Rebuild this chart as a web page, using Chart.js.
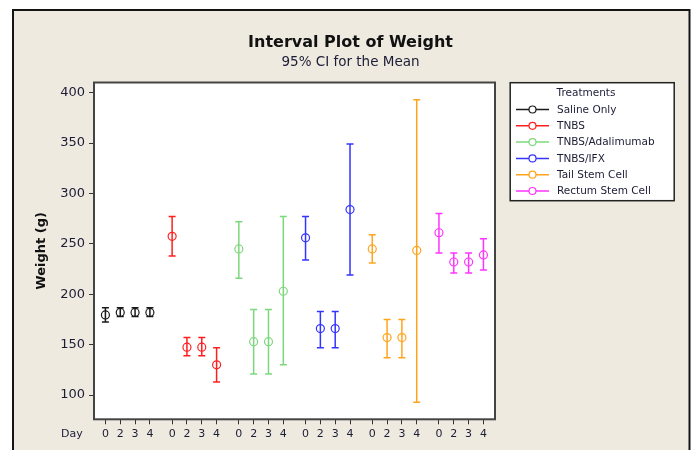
<!DOCTYPE html>
<html><head><meta charset="utf-8">
<script src="https://cdn.jsdelivr.net/npm/chart.js@4/dist/chart.umd.min.js"></script>
<style>html,body{margin:0;padding:0;background:#fff;}canvas{display:block;}</style>
</head><body>
<canvas id="c" width="697" height="450"></canvas>
<script>
// ---- data ----
const chartTitle = 'Interval Plot of Weight';
const chartSubtitle = '95% CI for the Mean';
const treatments = ['Saline Only','TNBS','TNBS/Adalimumab','TNBS/IFX','Tail Stem Cell','Rectum Stem Cell'];
const dayLabels = ['0','2','3','4'];
const yTickValues = [100,150,200,250,300,350,400];
const meanWeight = [
  [179.5,182,182,182],
  [257.5,147.5,147.5,130],
  [245,153,153,203],
  [256,166,166,284],
  [245,157,157,243.5],
  [261,232,232,239]
];
const lowerCI = [
  [172.5,178,178,178],
  [238,139,139,113],
  [216,121,121,130],
  [234,147,147,219],
  [231,137,137,93],
  [241,221,221,224]
];
const upperCI = [
  [186.5,186.5,186.5,186.5],
  [277,157,157,147],
  [272,185,185,277],
  [277,183,183,349],
  [259,175,175,393],
  [280,241,241,255]
];
const colors = ['#1a1a1a','#ff1f1f','#7dd87d','#3434ff','#ffa41c','#ff33ff'];

// ---- build datasets ----
const GROUP_STEP = 4.5;
const xPos = (g, i) => g * GROUP_STEP + i;
const tickPositions = [];
treatments.forEach((t, g) => dayLabels.forEach((d, i) => tickPositions.push(xPos(g, i))));

const meanSets = treatments.map((t, g) => ({
  label: t,
  data: meanWeight[g].map((v, i) => ({x: xPos(g, i), y: v})),
  showLine: false,
  pointStyle: 'circle',
  pointRadius: 4,
  pointBorderWidth: 1.2,
  borderColor: colors[g],
  pointBorderColor: colors[g],
  backgroundColor: 'rgba(0,0,0,0)',
  pointBackgroundColor: 'rgba(0,0,0,0)'
}));
const intervalSets = [];
treatments.forEach((t, g) => {
  dayLabels.forEach((d, i) => {
    intervalSets.push({
      label: t + ' interval',
      isInterval: true,
      data: [{x: xPos(g, i), y: lowerCI[g][i]}, {x: xPos(g, i), y: upperCI[g][i]}],
      showLine: true,
      borderColor: colors[g],
      borderWidth: 1.5,
      pointStyle: 'line',
      pointRadius: 3.5,
      pointBorderWidth: 1.5,
      pointBorderColor: colors[g],
      backgroundColor: colors[g]
    });
  });
});

const TEXT = '#1c1c36';

const decorPlugin = {
  id: 'decor',
  beforeDraw(chart) {
    const ctx = chart.ctx, W = chart.width, H = chart.height;
    ctx.save();
    ctx.fillStyle = '#ffffff';
    ctx.fillRect(0, 0, W, H);
    ctx.fillStyle = '#eeeae0';
    ctx.fillRect(13, 10, 676.5, H);
    ctx.strokeStyle = '#141414';
    ctx.lineWidth = 2;
    ctx.beginPath();
    ctx.moveTo(13, H + 3); ctx.lineTo(13, 10); ctx.lineTo(689.5, 10); ctx.lineTo(689.5, H + 3);
    ctx.stroke();
    const a = chart.chartArea;
    ctx.fillStyle = '#ffffff';
    ctx.fillRect(a.left, a.top, a.right - a.left, a.bottom - a.top);
    // title + subtitle
    ctx.textAlign = 'center';
    ctx.textBaseline = 'alphabetic';
    ctx.fillStyle = '#111111';
    ctx.font = 'bold 16px "DejaVu Sans"';
    ctx.fillText(chartTitle, 350.5, 46.7);
    ctx.fillStyle = TEXT;
    ctx.font = '13.5px "DejaVu Sans"';
    ctx.fillText(chartSubtitle, 350.5, 65.7);
    ctx.restore();
  },
  beforeDatasetsDraw(chart) {
    const ctx = chart.ctx, a = chart.chartArea;
    ctx.save();
    ctx.strokeStyle = '#444444';
    ctx.lineWidth = 2;
    ctx.strokeRect(a.left, a.top, a.right - a.left, a.bottom - a.top);
    ctx.restore();
  },
  afterDraw(chart) {
    const ctx = chart.ctx;
    ctx.save();
    // "Day" label beside the x tick labels
    const xs = chart.scales.x;
    ctx.fillStyle = TEXT;
    ctx.font = '11px "DejaVu Sans"';
    ctx.textAlign = 'left';
    ctx.textBaseline = 'middle';
    ctx.fillText('Day', 61, xs.top + 5 + 3 + 6.6);
    // legend box
    const L = 510.2, T = 82.7, R = 674.2, B = 200.7;
    ctx.fillStyle = '#ffffff';
    ctx.fillRect(L, T, R - L, B - T);
    ctx.strokeStyle = '#222222';
    ctx.lineWidth = 1.5;
    ctx.strokeRect(L, T, R - L, B - T);
    ctx.fillStyle = TEXT;
    ctx.font = '10.5px "DejaVu Sans"';
    ctx.textAlign = 'center';
    ctx.fillText('Treatments', 586, 93.5);
    const sets = chart.data.datasets.filter(d => !d.isInterval);
    sets.forEach((ds, k) => {
      const y = 109.5 + k * 16.3;
      ctx.strokeStyle = ds.borderColor;
      ctx.lineWidth = 1.5;
      ctx.beginPath(); ctx.moveTo(516, y); ctx.lineTo(549, y); ctx.stroke();
      ctx.fillStyle = '#ffffff';
      ctx.lineWidth = 1.2;
      ctx.beginPath(); ctx.arc(532.5, y, 3.5, 0, Math.PI * 2); ctx.fill(); ctx.stroke();
      ctx.fillStyle = TEXT;
      ctx.textAlign = 'left';
      ctx.fillText(ds.label, 557, y + 0.5);
    });
    ctx.restore();
  }
};

new Chart(document.getElementById('c'), {
  type: 'scatter',
  data: { datasets: meanSets.concat(intervalSets) },
  options: {
    responsive: false,
    devicePixelRatio: 1,
    animation: false,
    events: [],
    layout: { padding: { left: 0, right: 202, top: 82.5, bottom: 0 } },
    plugins: {
      legend: { display: false },
      tooltip: { enabled: false },
      title: { display: false },
      subtitle: { display: false }
    },
    scales: {
      x: {
        type: 'linear',
        min: -0.77,
        max: 26.28,
        afterBuildTicks: (s) => { s.ticks = tickPositions.map(v => ({value: v})); },
        afterFit: (s) => { s.height = 30.7; },
        border: { display: false },
        grid: { display: true, drawOnChartArea: false, drawTicks: true, tickLength: 5, color: '#333333', lineWidth: 1 },
        ticks: {
          autoSkip: false, maxRotation: 0, padding: 3, color: TEXT,
          font: { family: '"DejaVu Sans"', size: 11 },
          callback: (v, i) => dayLabels[i % dayLabels.length]
        }
      },
      y: {
        type: 'linear',
        min: 76,
        max: 410,
        afterBuildTicks: (s) => { s.ticks = yTickValues.map(v => ({value: v})); },
        afterFit: (s) => { s.width = 94; },
        border: { display: false },
        grid: { display: true, drawOnChartArea: false, drawTicks: true, tickLength: 5, color: '#333333', lineWidth: 1 },
        ticks: { padding: 4, color: TEXT, font: { family: '"DejaVu Sans"', size: 13 } },
        title: {
          display: true,
          text: 'Weight (g)',
          color: '#111111',
          font: { family: '"DejaVu Sans"', size: 13, weight: 'bold', lineHeight: 1.2 },
          padding: { top: 34.2, bottom: 0 }
        }
      }
    }
  },
  plugins: [decorPlugin]
});
</script>
</body></html>
